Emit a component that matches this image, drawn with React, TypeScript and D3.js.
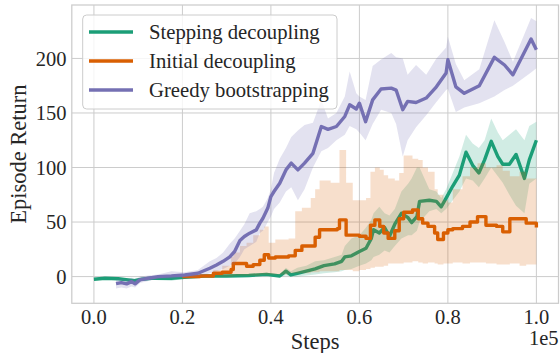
import React, { useRef, useEffect } from 'react';
import * as d3 from 'd3';

// steps are in units of 1e5
const steppingX = [0, 0.025, 0.055, 0.077, 0.092, 0.108, 0.13, 0.175, 0.205, 0.25, 0.3, 0.35, 0.39, 0.42, 0.434, 0.445, 0.46, 0.48, 0.5, 0.52, 0.544, 0.56, 0.567, 0.582, 0.6, 0.615, 0.627, 0.632, 0.645, 0.657, 0.668, 0.68, 0.695, 0.71, 0.718, 0.73, 0.736, 0.758, 0.774, 0.785, 0.796, 0.811, 0.826, 0.841, 0.856, 0.87, 0.883, 0.898, 0.913, 0.924, 0.939, 0.954, 0.973, 0.984, 1.0];
const steppingMean = [-2.4, -1.5, -2, -3, -3.7, -2.4, -1.5, -1.5, -0.6, 0.5, 0.5, 1, 2, 0.5, 5, 1.5, 3, 5, 7, 10, 11.6, 14, 18, 19, 23, 26, 35, 43, 40, 45, 37, 48, 58, 54, 49.5, 55, 69, 70, 69, 64, 72, 83, 93, 114, 102, 95, 107, 124, 110, 103, 103, 112, 90, 107, 125];
const steppingLow = [-3.5, -2.5, -3, -4.5, -5, -4, -3, -4, -1.5, 0, 0, 0, 0.5, -0.5, 1, 0, 0, 1, 2, 3, 4, 5, 6, 7, 10, 12, 15, 18, 20, 24, 22, 28, 35, 38, 38, 42, 50, 60, 62, 58, 62, 70, 78, 90, 88, 82, 90, 100, 92, 86, 75, 65, 58, 85, 90];
const steppingHigh = [-1.5, -0.5, -1, -1.5, -2, -1, -0.5, 0, 0.5, 1, 1.5, 2, 3.5, 2, 8, 5, 8, 10, 14, 15, 18, 20, 28, 35, 38, 45, 52, 58, 64, 58, 56, 62, 78, 85, 90, 100, 100, 80, 78, 72, 80, 95, 110, 130, 122, 118, 125, 145, 132, 125, 130, 135, 125, 138, 142];

const initialX = [0.2, 0.24, 0.27, 0.29, 0.31, 0.315, 0.33, 0.345, 0.36, 0.375, 0.385, 0.395, 0.41, 0.44, 0.455, 0.47, 0.49, 0.5, 0.51, 0.535, 0.55, 0.555, 0.567, 0.57, 0.585, 0.6, 0.615, 0.625, 0.635, 0.646, 0.655, 0.665, 0.68, 0.69, 0.7, 0.72, 0.733, 0.743, 0.755, 0.77, 0.777, 0.79, 0.8, 0.811, 0.833, 0.85, 0.867, 0.886, 0.91, 0.924, 0.94, 0.962, 0.977, 1.0];
const initialMean = [0, 0.5, 3, 4, 6.5, 12, 12, 9.5, 11, 15, 20, 17, 18, 19, 24, 28, 28, 36, 43, 43, 44, 52, 52, 38, 38, 37, 35, 47, 52, 46, 40, 35, 42, 53, 59, 61, 53, 49, 46, 40, 34, 40, 43, 44, 46, 50, 55, 47, 46, 41, 53, 53, 49, 45];
const initialLow = [-1, -0.5, 0, 0, 0, 1, 1, 1, 1, 2, 2, 2, 2, 3, 3, 3, 4, 4, 5, 5, 5, 6, 6, 6, 5, 6, 7, 8, 9, 9, 10, 12, 12, 12, 13, 14, 13, 12, 13, 12, 11, 12, 12, 13, 12, 13, 13, 12, 11, 11, 12, 10, 11, 9];
const initialHigh = [1, 2, 6, 10, 18, 22, 28, 31, 38, 43, 46, 31, 34, 35, 60, 63, 72, 80, 88, 86, 86, 116, 116, 86, 70, 70, 72, 96, 100, 98, 93, 90, 88, 95, 111, 108, 107, 100, 96, 80, 75, 70, 68, 80, 92, 100, 104, 100, 102, 97, 92, 96, 90, 88];

const greedyX = [0.05, 0.062, 0.074, 0.085, 0.093, 0.104, 0.123, 0.145, 0.175, 0.205, 0.235, 0.262, 0.277, 0.292, 0.307, 0.318, 0.33, 0.34, 0.352, 0.367, 0.375, 0.382, 0.393, 0.4, 0.407, 0.42, 0.434, 0.446, 0.461, 0.476, 0.495, 0.514, 0.529, 0.548, 0.567, 0.578, 0.593, 0.6, 0.614, 0.63, 0.649, 0.672, 0.683, 0.698, 0.709, 0.728, 0.751, 0.774, 0.796, 0.8, 0.818, 0.837, 0.871, 0.905, 0.928, 0.947, 0.988, 1.0];
const greedyMean = [-6.5, -5.5, -6.7, -4.6, -6.7, -3, -1.5, 0, 0.6, 1.5, 3, 7.6, 10.7, 14, 18, 23, 33, 36.7, 39.8, 42.8, 49, 53.5, 62.8, 73.4, 78, 85.6, 97.8, 104, 97.8, 104, 113, 137.6, 135, 137.6, 146.8, 157.5, 153.6, 159, 142, 162, 172, 172.8, 171, 153, 160.6, 159.6, 163.7, 174, 186.6, 198.8, 174, 168, 175, 201, 194, 185, 217.8, 208];
const greedyLow = [-11, -10, -11, -9, -10, -6, -4, -2, -2, -1, 0, 3, 5, 7, 10, 12, 18, 25, 28, 32, 40, 42, 50, 55, 62, 68, 78, 82, 70, 80, 100, 115, 118, 125, 130, 138, 135, 132, 125, 140, 153, 150, 140, 110, 125, 137, 148, 160, 171, 172, 151, 155, 159, 165, 171, 175, 187, 191];
const greedyHigh = [-3, -2, -3, -1, -3, 0, 1, 2, 5, 4, 6, 14, 17, 22, 30, 35, 42, 48, 58, 60, 62, 64, 72, 80, 95, 108, 118, 128, 134, 139, 141, 162, 145, 150, 165, 188, 168, 165, 162, 193, 199, 205, 201, 200, 185, 194, 185, 200, 210, 220, 195, 180, 190, 235, 215, 197, 237, 234];

const seriesNames = ['Stepping decoupling', 'Initial decoupling', 'Greedy bootstrapping'];
const seriesColors = ['#1b9e77', '#d95f02', '#7570b3'];
const xTicks = [0, 0.2, 0.4, 0.6, 0.8, 1.0];
const yTicks = [0, 50, 100, 150, 200];

function App() {
  const svgRef = useRef(null);

  useEffect(() => {
    const width = 560;
    const height = 353;
    const plot = { left: 71.8, right: 558.5, top: 5, bottom: 303.3 };
    const font = '"Liberation Serif", "Times New Roman", serif';
    const textColor = '#262626';
    const gridColor = '#cccccc';

    const xScale = d3.scaleLinear().domain([-0.05, 1.05]).range([plot.left, plot.right]);
    const yScale = d3.scaleLinear().domain([-24.5, 249]).range([plot.bottom, plot.top]);

    const svg = d3.select(svgRef.current);
    svg.selectAll('*').remove();
    svg.attr('width', width).attr('height', height);

    // grid
    svg.append('g')
      .selectAll('line')
      .data(xTicks)
      .enter()
      .append('line')
      .attr('x1', (d) => xScale(d))
      .attr('x2', (d) => xScale(d))
      .attr('y1', plot.top)
      .attr('y2', plot.bottom)
      .attr('stroke', gridColor)
      .attr('stroke-width', 1);
    svg.append('g')
      .selectAll('line')
      .data(yTicks)
      .enter()
      .append('line')
      .attr('x1', plot.left)
      .attr('x2', plot.right)
      .attr('y1', (d) => yScale(d))
      .attr('y2', (d) => yScale(d))
      .attr('stroke', gridColor)
      .attr('stroke-width', 1);

    const series = [
      { x: steppingX, mean: steppingMean, low: steppingLow, high: steppingHigh, curve: d3.curveLinear },
      { x: initialX, mean: initialMean, low: initialLow, high: initialHigh, curve: d3.curveStepAfter },
      { x: greedyX, mean: greedyMean, low: greedyLow, high: greedyHigh, curve: d3.curveLinear },
    ];

    series.forEach((s, i) => {
      const idx = s.x.map((_, j) => j);
      const area = d3.area()
        .x((j) => xScale(s.x[j]))
        .y0((j) => yScale(s.low[j]))
        .y1((j) => yScale(s.high[j]))
        .curve(s.curve);
      const line = d3.line()
        .x((j) => xScale(s.x[j]))
        .y((j) => yScale(s.mean[j]))
        .curve(s.curve);
      svg.append('path')
        .attr('d', area(idx))
        .attr('fill', seriesColors[i])
        .attr('fill-opacity', 0.2)
        .attr('stroke', 'none');
      svg.append('path')
        .attr('d', line(idx))
        .attr('fill', 'none')
        .attr('stroke', seriesColors[i])
        .attr('stroke-width', 3.4)
        .attr('stroke-linejoin', 'round');
    });

    // frame
    svg.append('rect')
      .attr('x', plot.left)
      .attr('y', plot.top)
      .attr('width', plot.right - plot.left)
      .attr('height', plot.bottom - plot.top)
      .attr('fill', 'none')
      .attr('stroke', gridColor)
      .attr('stroke-width', 1.25);

    // tick labels
    svg.append('g')
      .selectAll('text')
      .data(xTicks)
      .enter()
      .append('text')
      .attr('x', (d) => xScale(d))
      .attr('y', 316.7)
      .attr('dy', '0.35em')
      .attr('text-anchor', 'middle')
      .attr('font-family', font)
      .attr('font-size', 20.5)
      .attr('fill', textColor)
      .text((d) => d3.format('.1f')(d));
    svg.append('g')
      .selectAll('text')
      .data(yTicks)
      .enter()
      .append('text')
      .attr('x', 66.5)
      .attr('y', (d) => yScale(d))
      .attr('dy', '0.35em')
      .attr('text-anchor', 'end')
      .attr('font-family', font)
      .attr('font-size', 20.5)
      .attr('fill', textColor)
      .text((d) => d);

    svg.append('text')
      .attr('x', (plot.left + plot.right) / 2)
      .attr('y', 341)
      .attr('dy', '0.35em')
      .attr('text-anchor', 'middle')
      .attr('font-family', font)
      .attr('font-size', 22.5)
      .attr('fill', textColor)
      .text('Steps');
    svg.append('text')
      .attr('x', 558.5)
      .attr('y', 338)
      .attr('dy', '0.35em')
      .attr('text-anchor', 'end')
      .attr('font-family', font)
      .attr('font-size', 20.5)
      .attr('fill', textColor)
      .text('1e5');
    svg.append('text')
      .attr('transform', `translate(18, ${(plot.top + plot.bottom) / 2}) rotate(-90)`)
      .attr('dy', '0.35em')
      .attr('text-anchor', 'middle')
      .attr('font-family', font)
      .attr('font-size', 22.5)
      .attr('fill', textColor)
      .text('Episode Return');

    // legend
    const legend = svg.append('g');
    legend.append('rect')
      .attr('x', 82.7)
      .attr('y', 15)
      .attr('width', 254.3)
      .attr('height', 94)
      .attr('rx', 4)
      .attr('fill', 'white')
      .attr('fill-opacity', 0.8)
      .attr('stroke', gridColor)
      .attr('stroke-width', 1);
    seriesNames.forEach((name, i) => {
      const y = 32 + i * 29;
      legend.append('line')
        .attr('x1', 89)
        .attr('x2', 133)
        .attr('y1', y)
        .attr('y2', y)
        .attr('stroke', seriesColors[i])
        .attr('stroke-width', 3.4);
      legend.append('text')
        .attr('x', 149)
        .attr('y', y)
        .attr('dy', '0.35em')
        .attr('font-family', font)
        .attr('font-size', 20.7)
        .attr('fill', textColor)
        .text(name);
    });
  }, []);

  return <svg ref={svgRef} width={560} height={353} style={{ position: 'absolute', left: 0, top: 0 }} />;
}

export default App;
